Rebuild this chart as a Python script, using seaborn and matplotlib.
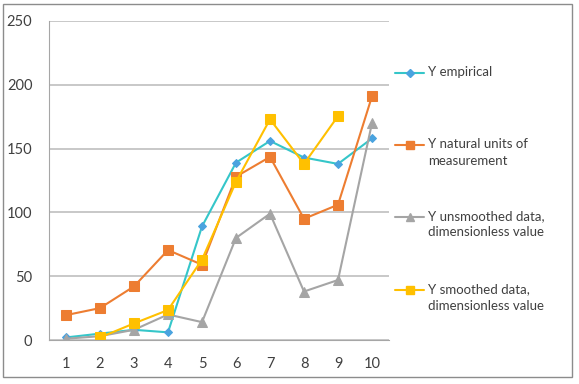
import numpy as np
import pandas as pd
import seaborn as sns
import matplotlib.pyplot as plt
from matplotlib.lines import Line2D
from matplotlib.patches import Rectangle

# data
x_cat = [1, 2, 3, 4, 5, 6, 7, 8, 9, 10]
y_empirical = [2, 5, 8, 6, 89, 139, 156, 143, 138, 158]
y_natural = [19.5, 25, 42, 70.5, 59, 128, 143.5, 95, 106, 191]
y_unsmoothed = [1, 3, 8, 20, 14, 80, 99, 38, 47, 170]
y_smoothed = [np.nan, 2, 13, 23.5, 63, 124, 173, 138, 175.5, np.nan]
y_ticks = [0, 50, 100, 150, 200, 250]

labels = ["Y empirical", "Y natural units of\nmeasurement",
          "Y unsmoothed data,\ndimensionless value",
          "Y smoothed data,\ndimensionless value"]

sns.set_style("white")
plt.rcParams['font.family'] = ['Lato', 'DejaVu Sans']

# line colour, marker colour, marker, marker size
styles = [("#35C6C9", "#4AA3DF", "D", 4.5),
          ("#ED7D31", "#ED7D31", "s", 6.5),
          ("#A5A5A5", "#A5A5A5", "^", 7),
          ("#FFC000", "#FFC000", "s", 7.5)]
series = [y_empirical, y_natural, y_unsmoothed, y_smoothed]

fig = plt.figure(figsize=(5.79, 3.84), dpi=100)
ax = fig.add_axes([49 / 579, 1 - 340 / 384, 340 / 579, 319 / 384])

for ys, (lc, mc, mk, ms) in zip(series, styles):
    df = pd.DataFrame({"x": x_cat, "y": ys}).dropna()
    sns.lineplot(data=df, x="x", y="y", ax=ax, color=lc, linewidth=1.5,
                 marker=mk, markersize=ms, markerfacecolor=mc,
                 markeredgecolor=mc, estimator=None, sort=False)

ax.set_xlim(0.5, 10.5)
ax.set_ylim(0, 250)
ax.set_yticks(y_ticks)
ax.set_xticks(x_cat)
ax.set_xticks(np.arange(0.5, 11, 1), minor=True)
ax.set_xlabel("")
ax.set_ylabel("")
ax.grid(axis="y", color="#BFBFBF", linewidth=1.2)
ax.set_axisbelow(True)
for s in ["top", "right"]:
    ax.spines[s].set_visible(False)
ax.spines["left"].set_color("#A6A6A6")
ax.spines["bottom"].set_color("#A6A6A6")
ax.tick_params(axis="x", which="major", length=0, labelsize=10.5,
               colors="#404040", pad=12)
ax.tick_params(axis="x", which="minor", length=5, color="#A6A6A6",
               direction="out")
ax.tick_params(axis="y", length=0, labelsize=10.5, colors="#404040", pad=12)

# legend, handle lined up with the first text line as in the original
leg_y = [72.7, 145, 217, 290]
for (lc, mc, mk, ms), lab, yy in zip(styles, labels, leg_y):
    fy = 1 - yy / 384
    fig.add_artist(Line2D([395 / 579, 424 / 579], [fy, fy], color=lc,
                          linewidth=1.5, transform=fig.transFigure))
    fig.add_artist(Line2D([409.5 / 579], [fy], color=mc, marker=mk,
                          markersize=ms * 0.85, linestyle="none",
                          transform=fig.transFigure))
    fig.text(428 / 579, fy + 7 / 384, lab, fontsize=9.5, color="#404040",
             va="top", ha="left", linespacing=1.45)

# outer chart frame
fig.add_artist(Rectangle((3 / 579, 1 - 377 / 384), 569 / 579, 373 / 384,
                         fill=False, edgecolor="#8C8C8C", linewidth=1,
                         transform=fig.transFigure))

fig.savefig("out.png", dpi=100)
